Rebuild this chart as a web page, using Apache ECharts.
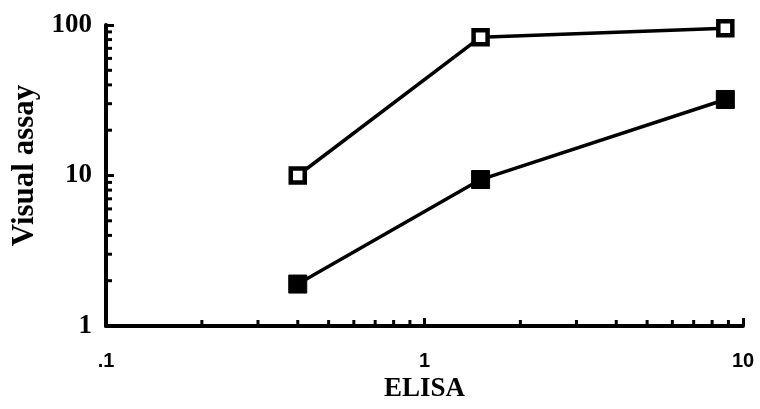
<!DOCTYPE html>
<html>
<head>
<meta charset="utf-8">
<script src="https://cdn.jsdelivr.net/npm/echarts@6/dist/echarts.min.js"></script>
<style>
  html, body { margin: 0; padding: 0; background: #fff; }
  #chart { width: 760px; height: 409px; }
</style>
</head>
<body>
<div id="chart"></div>
<script>
// ELISA vs visual assay, log-log
const elisa = [0.4, 1.5, 8.8];
const openSquares = [10, 83, 95];
const filledSquares = [1.9, 9.4, 32];

// minor log ticks between decades
const xMinorTicks = [0.2, 0.3, 0.4, 0.5, 0.6, 0.7, 0.8, 0.9, 2, 3, 4, 5, 6, 7, 8, 9];
const yMinorTicks = [2, 3, 4, 5, 6, 7, 8, 9, 20, 30, 40, 50, 60, 70, 80, 90];

const serif = '"Liberation Serif", "DejaVu Serif", serif';
const sans = '"Liberation Sans", "DejaVu Sans", sans-serif';

const chart = echarts.init(document.getElementById('chart'), null, { renderer: 'canvas' });

const tickStyle = { stroke: '#000', lineWidth: 3 };

const option = {
  animation: false,
  backgroundColor: '#fff',
  grid: { left: 106, right: 17, top: 25, bottom: 83 },
  xAxis: {
    type: 'log',
    logBase: 10,
    min: 0.1,
    max: 10,
    name: 'ELISA',
    nameLocation: 'middle',
    nameGap: 48,
    nameTextStyle: { fontFamily: serif, fontWeight: 'bold', fontSize: 27, color: '#000' },
    axisLine: { show: true, lineStyle: { color: '#000', width: 4 } },
    axisTick: { show: true, inside: true, length: 8, lineStyle: { color: '#000', width: 3 } },
    splitLine: { show: false },
    axisLabel: {
      margin: 25,
      fontFamily: sans,
      fontWeight: 'bold',
      fontSize: 20,
      color: '#000',
      formatter: v => (v < 1 ? '.1' : String(Math.round(v)))
    }
  },
  yAxis: {
    type: 'log',
    logBase: 10,
    min: 1,
    max: 100,
    name: 'Visual assay',
    nameLocation: 'middle',
    nameGap: 64,
    nameRotate: 90,
    nameTextStyle: { fontFamily: serif, fontWeight: 'bold', fontSize: 31, color: '#000', padding: [0, 0, 0, 20] },
    axisLine: { show: true, lineStyle: { color: '#000', width: 4 } },
    axisTick: { show: true, inside: true, length: 8, lineStyle: { color: '#000', width: 3 } },
    splitLine: { show: false },
    axisLabel: {
      margin: 14,
      fontFamily: serif,
      fontWeight: 'bold',
      fontSize: 27,
      color: '#000'
    }
  },
  series: [
    {
      type: 'custom',
      silent: true,
      clip: false,
      data: xMinorTicks.map(v => [v, 1]),
      renderItem: (params, api) => {
        const p = api.coord([api.value(0), 1]);
        return { type: 'line', shape: { x1: p[0], y1: p[1], x2: p[0], y2: p[1] - 6 }, style: tickStyle };
      }
    },
    {
      type: 'custom',
      silent: true,
      clip: false,
      data: yMinorTicks.map(v => [0.1, v]),
      renderItem: (params, api) => {
        const p = api.coord([0.1, api.value(1)]);
        return { type: 'line', shape: { x1: p[0], y1: p[1], x2: p[0] + 6, y2: p[1] }, style: tickStyle };
      }
    },
    {
      name: 'open',
      type: 'line',
      data: elisa.map((x, i) => [x, openSquares[i]]),
      symbol: 'rect',
      symbolSize: 14,
      lineStyle: { color: '#000', width: 3.5 },
      itemStyle: { color: '#fff', borderColor: '#000', borderWidth: 4.5 },
      z: 3
    },
    {
      name: 'filled',
      type: 'line',
      data: elisa.map((x, i) => [x, filledSquares[i]]),
      symbol: 'rect',
      symbolSize: 18,
      lineStyle: { color: '#000', width: 3.5 },
      itemStyle: { color: '#000', borderColor: '#000', borderWidth: 1 },
      z: 3
    }
  ]
};

chart.setOption(option);
</script>
</body>
</html>
